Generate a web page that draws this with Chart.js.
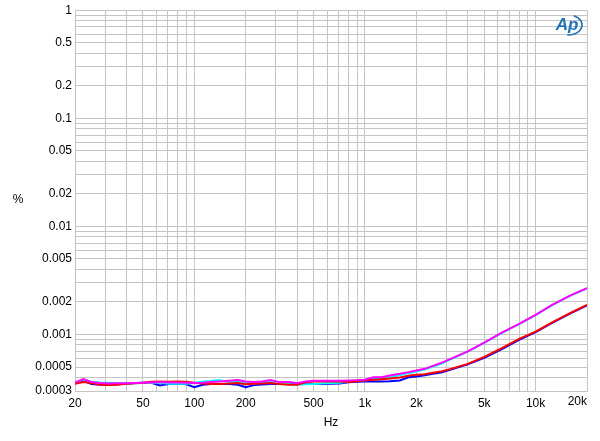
<!DOCTYPE html>
<html>
<head>
<meta charset="utf-8">
<script src="https://cdn.jsdelivr.net/npm/chart.js@4/dist/chart.umd.min.js"></script>
<style>
  html, body { margin: 0; padding: 0; background: #fff; }
  #chart { display: block; }
</style>
</head>
<body>
<canvas id="chart" width="600" height="441"></canvas>
<script>
// Fréquences (Hz)
const freqs = [20, 22.4, 25, 28, 31.5, 35.5, 40, 45, 50, 56, 63, 71, 80, 90, 100, 112, 125, 140, 160, 180,
  200, 224, 250, 280, 315, 355, 400, 450, 500, 560, 630, 710, 800, 900, 1000, 1120, 1250, 1400, 1600, 1800,
  2000, 2240, 2500, 2800, 3150, 4000, 5000, 6300, 8000, 10000, 12500, 16000, 20000];

// THD+N (%) par canal
const magentaVals = [3.594, 3.863, 3.625, 3.549, 3.519, 3.534, 3.534, 3.549, 3.571, 3.594, 3.625, 3.594, 3.594, 3.571, 3.549, 3.571, 3.625, 3.672, 3.727, 3.782,
  3.672, 3.625, 3.672, 3.782, 3.625, 3.625, 3.549, 3.672, 3.727, 3.727, 3.727, 3.727, 3.751, 3.782, 3.806, 4.014, 4.031, 4.170, 4.324, 4.484,
  4.639, 4.810, 5.127, 5.465, 5.911, 6.981, 8.418, 10.34, 12.53, 15.18, 18.78, 22.98, 26.79];
const cyanVals = [3.571, 3.822, 3.648, 3.594, 3.571, 3.549, 3.519, 3.534, 3.549, 3.571, 3.571, 3.496, 3.496, 3.496, 3.571, 3.672, 3.703, 3.782, 3.625, 3.672,
  3.571, 3.519, 3.571, 3.672, 3.474, 3.474, 3.422, 3.459, 3.474, 3.519, 3.549, 3.571, 3.672, 3.727, 3.766, 3.930, 3.913, 4.031, 4.188, 4.388,
  4.541, 4.739, 5.051, 5.350, 5.848, 6.935, 8.364, 10.28, 12.45, 15.08, 18.66, 22.84, 26.68];
const redVals = [3.496, 3.625, 3.549, 3.422, 3.400, 3.422, 3.496, 3.534, 3.571, 3.648, 3.672, 3.648, 3.672, 3.648, 3.571, 3.519, 3.474, 3.474, 3.519, 3.549,
  3.459, 3.496, 3.519, 3.549, 3.474, 3.422, 3.422, 3.610, 3.672, 3.672, 3.672, 3.672, 3.625, 3.688, 3.751, 3.806, 3.863, 3.913, 3.997, 4.144,
  4.233, 4.296, 4.417, 4.541, 4.779, 5.350, 6.209, 7.438, 9.107, 10.64, 12.94, 15.84, 18.78];
const blueVals = [3.549, 3.727, 3.474, 3.422, 3.422, 3.459, 3.496, 3.549, 3.571, 3.571, 3.372, 3.474, 3.496, 3.459, 3.259, 3.422, 3.474, 3.474, 3.474, 3.422,
  3.259, 3.400, 3.437, 3.474, 3.474, 3.474, 3.474, 3.474, 3.474, 3.474, 3.496, 3.519, 3.610, 3.648, 3.672, 3.672, 3.672, 3.688, 3.751, 4.014,
  4.083, 4.188, 4.324, 4.446, 4.708, 5.293, 6.076, 7.285, 8.916, 10.50, 12.80, 15.67, 18.58];
const valueUnit = 1e-4; // les valeurs ci-dessus sont en 1e-4 %

// Graduations
const xGridValues = [20, 30, 40, 50, 60, 70, 80, 90, 100, 200, 300, 400, 500, 600, 700, 800, 900,
  1000, 2000, 3000, 4000, 5000, 6000, 7000, 8000, 9000, 10000, 20000];
const xLabelValues = [20, 50, 100, 200, 500, 1000, 2000, 5000, 10000, 20000];
const xLabelTexts = ['20', '50', '100', '200', '500', '1k', '2k', '5k', '10k', '20k'];
const yLabelValues = [1, 0.5, 0.2, 0.1, 0.05, 0.02, 0.01, 0.005, 0.002, 0.001, 0.0005, 0.0003];
const yLabelTexts = ['1', '0.5', '0.2', '0.1', '0.05', '0.02', '0.01', '0.005', '0.002', '0.001', '0.0005', '0.0003'];

const gridColor = '#c4c4c4';
const fontFamily = '"Liberation Sans", Arial, sans-serif';
const xLabelPadding = 5;

function same(a, b) {
  return Math.abs(a - b) <= Math.abs(b) * 1e-6;
}

function buildYTicks() {
  const ticks = [];
  for (let e = -4; e <= 0; e++) {
    for (let m = 1; m <= 9; m++) {
      const v = parseFloat((m * Math.pow(10, e)).toPrecision(6));
      if (v >= 0.0003 - 1e-12 && v <= 1 + 1e-12) ticks.push({ value: v });
    }
  }
  return ticks;
}

function series(vals) {
  return freqs.map((f, i) => ({ x: f, y: vals[i] * valueUnit }));
}

// Texte "%", dernier label (aligné à droite) et logo
const extrasPlugin = {
  id: 'extras',
  afterDraw(chart) {
    const ctx = chart.ctx;
    const area = chart.chartArea;
    ctx.save();
    ctx.fillStyle = '#000';
    ctx.font = '12px ' + fontFamily;
    ctx.textAlign = 'center';
    ctx.textBaseline = 'middle';
    ctx.fillText('%', 18, 200);

    // le dernier label de l'axe x finit au bord du graphique
    ctx.textAlign = 'right';
    ctx.textBaseline = 'top';
    ctx.fillText(xLabelTexts[xLabelTexts.length - 1], area.right, area.bottom + xLabelPadding);

    // logo Ap
    ctx.fillStyle = '#1f74b8';
    ctx.strokeStyle = '#1f74b8';
    ctx.textAlign = 'center';
    ctx.textBaseline = 'middle';
    ctx.font = 'italic bold 17px ' + fontFamily;
    ctx.fillText('Ap', 567, 25);
    ctx.lineWidth = 1.6;
    ctx.beginPath();
    ctx.ellipse(569, 25, 13, 10, 0, -1.2, 1.7);
    ctx.stroke();
    ctx.restore();
  }
};

const ctx = document.getElementById('chart').getContext('2d');
new Chart(ctx, {
  type: 'line',
  data: {
    datasets: [
      { label: 'magenta', data: series(magentaVals), borderColor: '#ff00ff' },
      { label: 'red', data: series(redVals), borderColor: '#ff0000' },
      { label: 'cyan', data: series(cyanVals), borderColor: '#00ffff' },
      { label: 'blue', data: series(blueVals), borderColor: '#0000ff' }
    ]
  },
  options: {
    responsive: false,
    animation: false,
    events: [],
    layout: { padding: { left: 0, right: 13, top: 10, bottom: 0 } },
    elements: {
      point: { radius: 0 },
      line: { borderWidth: 2, tension: 0, fill: false }
    },
    plugins: {
      legend: { display: false },
      tooltip: { enabled: false }
    },
    scales: {
      x: {
        type: 'logarithmic',
        min: 20,
        max: 20000,
        afterBuildTicks: scale => { scale.ticks = xGridValues.map(v => ({ value: v })); },
        afterFit: scale => { scale.height = 50; },
        grid: { color: gridColor, lineWidth: 1, drawTicks: false },
        border: { color: gridColor },
        ticks: {
          autoSkip: false,
          maxRotation: 0,
          padding: xLabelPadding,
          color: '#000',
          font: { family: fontFamily, size: 12 },
          callback: value => {
            if (same(value, 20000)) return ''; // dessiné par le plugin
            const i = xLabelValues.findIndex(v => same(value, v));
            return i >= 0 ? xLabelTexts[i] : '';
          }
        },
        title: {
          display: true,
          text: 'Hz',
          color: '#000',
          font: { family: fontFamily, size: 12 },
          padding: { top: 0, bottom: 11 }
        }
      },
      y: {
        type: 'logarithmic',
        min: 0.0003,
        max: 1,
        afterBuildTicks: scale => { scale.ticks = buildYTicks(); },
        afterFit: scale => { scale.width = 75; },
        grid: { color: gridColor, lineWidth: 1, drawTicks: false },
        border: { color: gridColor },
        ticks: {
          autoSkip: false,
          padding: 3,
          color: '#000',
          font: { family: fontFamily, size: 12 },
          callback: value => {
            const i = yLabelValues.findIndex(v => same(value, v));
            return i >= 0 ? yLabelTexts[i] : '';
          }
        }
      }
    }
  },
  plugins: [extrasPlugin]
});
</script>
</body>
</html>
